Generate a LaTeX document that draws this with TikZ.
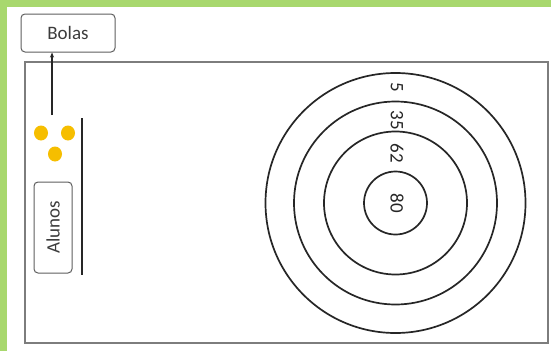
\documentclass[tikz,border=0pt]{standalone}
\usepackage{fontspec}
\setmainfont{Carlito}
\usetikzlibrary{arrows.meta,shapes.geometric}
\definecolor{bggreen}{RGB}{168,216,110}
\definecolor{ballyellow}{RGB}{246,190,0}
\definecolor{framegray}{RGB}{125,125,125}
\definecolor{boxgray}{RGB}{95,95,95}
\definecolor{txtgray}{RGB}{60,60,60}
\begin{document}
\begin{tikzpicture}[x=1pt,y=-1pt,
  labelbox/.style={draw=boxgray, line width=1pt, rounded corners=4pt, fill=white,
    inner sep=0pt, font=\fontsize{19}{22}\selectfont, text=txtgray},
  ring/.style={draw=black!85, line width=1.7pt, circle, inner sep=0pt, fill=none},
  ringlabel/.style={rotate=-90, inner sep=0pt, font=\fontsize{19}{22}\selectfont, text=black!85},
  ball/.style={ellipse, fill=ballyellow, draw=none, minimum width=14pt, minimum height=15pt, inner sep=0pt}]
\useasboundingbox (0,0) rectangle (551,351);
\fill[white] (0,0) rectangle (551,351);
\fill[bggreen] (0,0) rectangle (7,351);
\fill[bggreen] (0,0) rectangle (551,7);
% main frame
\draw[framegray, line width=1.5pt] (25,62) rectangle (548,343);
% boxes
\node[labelbox, minimum width=94pt, minimum height=38pt] (bolas) at (68,33) {Bolas};
\node[labelbox, rotate=90, minimum width=91pt, minimum height=38pt] (alunos) at (53,227.5) {Alunos};
% balls
\node[ball] (b1) at (41,133) {};
\node[ball] (b2) at (68,133) {};
\node[ball] (b3) at (55,154) {};
% arrow
\coordinate (launch) at (52,115);
\draw[line width=1.2pt, black!85, -{Stealth[length=5pt,width=4pt]}] (launch) -- (bolas.south -| launch);
% throwing line
\coordinate (lt) at (82,118);
\coordinate (lb) at (82,275);
\draw[line width=2.2pt, black!85] (lt) -- (lb);
% target
\node[ring, minimum size=260pt] (r5) at (395.5,203) {};
\node[ring, minimum size=203pt] (r35) at (395.5,203) {};
\node[ring, minimum size=143pt] (r62) at (395.5,203) {};
\node[ring, minimum size=63pt] (r80) at (395.5,203) {};
\node[ringlabel] (l5) at (397,87) {5};
\node[ringlabel] (l35) at (397,120) {35};
\node[ringlabel] (l62) at (397,153) {62};
\node[ringlabel] (l80) at (397,203) {80};
\end{tikzpicture}
\end{document}
